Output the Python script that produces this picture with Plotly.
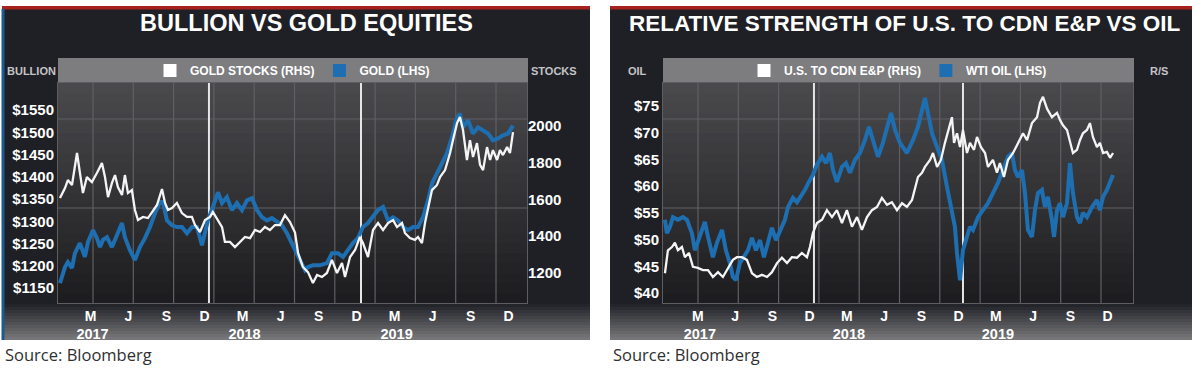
import plotly.graph_objects as go

W, H = 1200, 369

# ---------------- DATA ----------------
# Left chart: gold bullion (LHS, US$/oz) vs gold equities (RHS); time in decimal years
gold_t = [2017.020, 2017.053, 2017.072, 2017.099, 2017.118, 2017.151, 2017.184, 2017.204, 2017.237, 2017.263,
          2017.283, 2017.303, 2017.329, 2017.362, 2017.395, 2017.428, 2017.447, 2017.480, 2017.513, 2017.546,
          2017.579, 2017.612, 2017.645, 2017.678, 2017.697, 2017.724, 2017.757, 2017.789, 2017.822, 2017.855,
          2017.888, 2017.921, 2017.954, 2017.974, 2017.993, 2018.026, 2018.059, 2018.086, 2018.118, 2018.151,
          2018.184, 2018.217, 2018.250, 2018.283, 2018.316, 2018.349, 2018.382, 2018.414, 2018.447, 2018.480,
          2018.513, 2018.546, 2018.579, 2018.599, 2018.632, 2018.651, 2018.684, 2018.730, 2018.776, 2018.809,
          2018.849, 2018.882, 2018.914, 2018.947, 2018.980, 2019.013, 2019.046, 2019.079, 2019.112, 2019.145,
          2019.178, 2019.211, 2019.243, 2019.276, 2019.309, 2019.342, 2019.375, 2019.408, 2019.441, 2019.467,
          2019.500, 2019.533, 2019.566, 2019.599, 2019.632, 2019.651, 2019.671, 2019.704, 2019.737, 2019.770,
          2019.803, 2019.836, 2019.868, 2019.901, 2019.934, 2019.967, 2020.000]
gold_usd = [1161, 1197, 1208, 1195, 1228, 1251, 1220, 1253, 1280, 1262,
            1242, 1258, 1264, 1242, 1269, 1296, 1264, 1235, 1213, 1242,
            1262, 1287, 1318, 1343, 1343, 1302, 1291, 1287, 1287, 1273,
            1287, 1287, 1246, 1280, 1302, 1332, 1365, 1341, 1354, 1325,
            1341, 1325, 1347, 1352, 1325, 1309, 1302, 1307, 1298, 1291,
            1273, 1251, 1228, 1213, 1190, 1197, 1201, 1201, 1206, 1228,
            1228, 1220, 1235, 1251, 1262, 1287, 1296, 1309, 1325, 1332,
            1302, 1309, 1302, 1287, 1280, 1287, 1287, 1309, 1347, 1385,
            1408, 1430, 1453, 1489, 1533, 1542, 1511, 1527, 1497, 1511,
            1504, 1497, 1482, 1486, 1493, 1497, 1515]

stocks_t = [2017.020, 2017.053, 2017.072, 2017.099, 2017.132, 2017.151, 2017.171, 2017.197, 2017.230, 2017.263,
            2017.296, 2017.316, 2017.336, 2017.362, 2017.382, 2017.401, 2017.428, 2017.447, 2017.467, 2017.493,
            2017.513, 2017.533, 2017.566, 2017.599, 2017.632, 2017.658, 2017.691, 2017.711, 2017.730, 2017.757,
            2017.789, 2017.822, 2017.855, 2017.888, 2017.908, 2017.941, 2017.974, 2018.007, 2018.026, 2018.059,
            2018.086, 2018.105, 2018.138, 2018.171, 2018.204, 2018.237, 2018.270, 2018.303, 2018.336, 2018.368,
            2018.401, 2018.434, 2018.467, 2018.500, 2018.533, 2018.566, 2018.586, 2018.618, 2018.651, 2018.684,
            2018.711, 2018.743, 2018.776, 2018.809, 2018.842, 2018.875, 2018.895, 2018.928, 2018.961, 2018.993,
            2019.013, 2019.046, 2019.079, 2019.112, 2019.145, 2019.178, 2019.211, 2019.237, 2019.270, 2019.289,
            2019.322, 2019.355, 2019.375, 2019.401, 2019.421, 2019.441, 2019.467, 2019.500, 2019.520, 2019.553,
            2019.586, 2019.605, 2019.632, 2019.651, 2019.671, 2019.697, 2019.717, 2019.737, 2019.763, 2019.783,
            2019.803, 2019.829, 2019.849, 2019.868, 2019.895, 2019.914, 2019.934, 2019.961, 2019.980, 2020.000]
stocks_idx = [1608, 1662, 1706, 1679, 1853, 1744, 1635, 1722, 1695, 1744,
              1798, 1722, 1613, 1690, 1733, 1668, 1624, 1733, 1635, 1651,
              1543, 1488, 1505, 1499, 1543, 1570, 1657, 1581, 1543, 1554,
              1581, 1526, 1505, 1505, 1461, 1423, 1488, 1505, 1532, 1488,
              1450, 1369, 1369, 1341, 1369, 1396, 1390, 1434, 1423, 1450,
              1434, 1461, 1461, 1515, 1477, 1420, 1309, 1233, 1205, 1146,
              1189, 1178, 1200, 1271, 1200, 1254, 1178, 1287, 1325, 1396,
              1363, 1287, 1434, 1472, 1434, 1472, 1488, 1450, 1472, 1418,
              1390, 1380, 1396, 1363, 1472, 1543, 1651, 1679, 1722, 1760,
              1853, 1923, 2016, 2049, 1978, 1815, 1923, 1831, 1907, 1788,
              1760, 1885, 1815, 1869, 1815, 1869, 1842, 1885, 1853, 1967]

# Right chart: WTI oil (LHS, US$/bbl) vs U.S. to CDN E&P relative strength (RHS, unlabelled scale)
wti_t = [2017.000, 2017.013, 2017.034, 2017.054, 2017.087, 2017.121, 2017.148, 2017.181, 2017.201, 2017.235,
         2017.268, 2017.289, 2017.322, 2017.349, 2017.383, 2017.409, 2017.436, 2017.456, 2017.477, 2017.503,
         2017.530, 2017.557, 2017.584, 2017.611, 2017.638, 2017.664, 2017.691, 2017.718, 2017.745, 2017.772,
         2017.805, 2017.826, 2017.859, 2017.886, 2017.913, 2017.940, 2017.966, 2017.993, 2018.020, 2018.054,
         2018.081, 2018.107, 2018.128, 2018.154, 2018.188, 2018.215, 2018.242, 2018.275, 2018.309, 2018.342,
         2018.369, 2018.396, 2018.430, 2018.463, 2018.490, 2018.517, 2018.544, 2018.577, 2018.624, 2018.664,
         2018.698, 2018.725, 2018.745, 2018.765, 2018.792, 2018.826, 2018.859, 2018.893, 2018.926, 2018.946,
         2018.960, 2018.980, 2019.000, 2019.027, 2019.047, 2019.067, 2019.101, 2019.134, 2019.168, 2019.201,
         2019.235, 2019.268, 2019.302, 2019.329, 2019.349, 2019.369, 2019.396, 2019.416, 2019.436, 2019.463,
         2019.483, 2019.503, 2019.530, 2019.550, 2019.570, 2019.597, 2019.611, 2019.631, 2019.651, 2019.671,
         2019.698, 2019.718, 2019.738, 2019.765, 2019.785, 2019.805, 2019.832, 2019.866, 2019.899, 2019.919,
         2019.940, 2019.966, 2019.987, 2020.007]
wti_usd = [53.7, 51.2, 52.4, 54.2, 53.7, 54.2, 53.7, 51.2, 48.0, 50.5,
           53.3, 50.5, 46.7, 49.4, 51.8, 48.0, 45.6, 43.0, 42.4, 45.6,
           46.7, 48.0, 50.3, 48.0, 49.9, 46.7, 49.4, 52.2, 49.9, 51.8,
           53.7, 56.1, 57.8, 57.0, 58.0, 59.3, 60.8, 62.1, 64.0, 65.5,
           64.3, 66.2, 63.0, 60.8, 63.6, 64.3, 62.5, 64.9, 66.2, 68.6,
           71.1, 68.6, 65.5, 68.1, 71.1, 73.7, 70.5, 68.1, 66.2, 68.6,
           71.1, 74.3, 76.5, 73.7, 69.9, 67.3, 64.9, 59.8, 55.0, 52.4,
           47.5, 42.4, 48.0, 50.5, 52.4, 51.8, 54.2, 55.5, 56.8, 58.7,
           60.6, 63.0, 65.5, 66.2, 63.0, 61.7, 63.0, 58.7, 51.8, 50.5,
           55.5, 58.7, 59.3, 56.1, 58.0, 53.7, 50.5, 55.5, 56.8, 54.2,
           56.8, 64.3, 58.7, 54.2, 53.1, 55.0, 54.2, 56.1, 57.4, 55.5,
           58.0, 59.3, 60.6, 62.1]

rs_t = [2017.000, 2017.020, 2017.047, 2017.067, 2017.087, 2017.114, 2017.134, 2017.161, 2017.188, 2017.221,
        2017.255, 2017.289, 2017.322, 2017.356, 2017.389, 2017.423, 2017.456, 2017.483, 2017.517, 2017.550,
        2017.584, 2017.617, 2017.651, 2017.685, 2017.718, 2017.752, 2017.785, 2017.819, 2017.852, 2017.886,
        2017.919, 2017.953, 2017.973, 2017.993, 2018.020, 2018.054, 2018.087, 2018.121, 2018.154, 2018.188,
        2018.221, 2018.255, 2018.289, 2018.322, 2018.356, 2018.389, 2018.423, 2018.456, 2018.490, 2018.523,
        2018.557, 2018.591, 2018.624, 2018.658, 2018.678, 2018.698, 2018.725, 2018.745, 2018.779, 2018.799,
        2018.826, 2018.852, 2018.879, 2018.906, 2018.926, 2018.940, 2018.960, 2018.980, 2019.000, 2019.027,
        2019.047, 2019.074, 2019.094, 2019.121, 2019.148, 2019.168, 2019.201, 2019.228, 2019.248, 2019.275,
        2019.302, 2019.336, 2019.369, 2019.403, 2019.430, 2019.463, 2019.497, 2019.517, 2019.537, 2019.564,
        2019.597, 2019.631, 2019.651, 2019.671, 2019.698, 2019.718, 2019.738, 2019.765, 2019.785, 2019.805,
        2019.832, 2019.852, 2019.872, 2019.899, 2019.919, 2019.940, 2019.966, 2019.987, 2020.007]
rs_val = [43.7, 48.0, 48.6, 49.4, 48.0, 48.6, 46.7, 47.5, 44.9, 44.7,
          44.3, 44.3, 43.0, 43.9, 43.0, 44.7, 46.2, 46.7, 46.7, 46.2,
          43.7, 43.0, 43.4, 43.0, 43.9, 45.6, 46.6, 45.6, 46.7, 46.6,
          47.5, 46.7, 48.6, 51.2, 53.1, 53.7, 55.5, 54.2, 55.5, 53.1,
          55.5, 52.4, 54.2, 51.8, 54.2, 55.5, 56.1, 57.8, 56.5, 57.0,
          55.5, 56.8, 56.1, 57.4, 59.3, 61.7, 62.5, 63.6, 64.9, 66.2,
          63.6, 64.9, 68.1, 71.1, 72.9, 68.1, 69.9, 67.3, 70.5, 66.2,
          68.1, 66.8, 69.2, 67.3, 66.2, 63.6, 64.9, 62.5, 64.3, 61.7,
          64.9, 66.2, 68.1, 69.9, 68.6, 71.8, 72.9, 75.6, 76.7, 74.5,
          72.9, 73.7, 72.4, 71.4, 70.5, 68.1, 66.2, 66.8, 68.6, 69.9,
          70.5, 71.8, 69.2, 67.3, 68.1, 66.2, 66.4, 65.3, 66.2]

years = [2017, 2018, 2019]
month_nums = [3, 6, 9, 12]
month_letters = ["M", "J", "S", "D"]
gold_ticks = [1150, 1200, 1250, 1300, 1350, 1400, 1450, 1500, 1550]
stock_ticks = [1200, 1400, 1600, 1800, 2000]
oil_ticks = [40, 45, 50, 55, 60, 65, 70, 75]

# ---------------- STYLE / LAYOUT ----------------
BLUE = "#1e6fb2"
WHITE = "#f4f4f4"
PANEL = "#1f2026"
FONT = "Liberation Sans"

def fx(px):
    return px / W

def fy(py):
    return 1 - py / H

def mix(c1, c2, t):
    a = [int(c1[i:i + 2], 16) for i in (1, 3, 5)]
    b = [int(c2[i:i + 2], 16) for i in (1, 3, 5)]
    return "rgb(%d,%d,%d)" % tuple(round(a[k] + (b[k] - a[k]) * t) for k in range(3))

tickvals, ticktext = [], []
for yr in years:
    for m, lt in zip(month_nums, month_letters):
        tickvals.append(yr + (m - 0.35) / 12)
        ticktext.append(lt + ("<br><span style='font-size:14.5px'>&nbsp;" + str(yr) + "</span>" if m == 3 else ""))

fig = go.Figure()

# lines
fig.add_trace(go.Scatter(x=gold_t, y=gold_usd, mode="lines", line=dict(color=BLUE, width=4),
                         xaxis="x", yaxis="y", showlegend=False, hoverinfo="skip"))
fig.add_trace(go.Scatter(x=stocks_t, y=stocks_idx, mode="lines", line=dict(color=WHITE, width=2.3),
                         xaxis="x", yaxis="y2", showlegend=False, hoverinfo="skip"))
fig.add_trace(go.Scatter(x=wti_t, y=wti_usd, mode="lines", line=dict(color=BLUE, width=4),
                         xaxis="x2", yaxis="y3", showlegend=False, hoverinfo="skip"))
fig.add_trace(go.Scatter(x=rs_t, y=rs_val, mode="lines", line=dict(color=WHITE, width=2.3),
                         xaxis="x2", yaxis="y4", showlegend=False, hoverinfo="skip"))

# legend entries (square swatches)
for name, col, lg, xa, ya in [("GOLD STOCKS (RHS)", "white", "legend", "x", "y"),
                               ("GOLD (LHS)", BLUE, "legend", "x", "y"),
                               ("U.S. TO CDN E&P (RHS)", "white", "legend2", "x2", "y3"),
                               ("WTI OIL (LHS)", BLUE, "legend2", "x2", "y3")]:
    fig.add_trace(go.Scatter(x=[None], y=[None], mode="markers", name=name,
                             marker=dict(symbol="square", size=13, color=col),
                             legend=lg, xaxis=xa, yaxis=ya))

shapes = []
# panels
for x0, x1 in [(2, 590), (610, 1192)]:
    shapes.append(dict(type="rect", xref="paper", yref="paper", x0=fx(x0), x1=fx(x1), y0=fy(340), y1=fy(8),
                       fillcolor=PANEL, line=dict(width=0), layer="below"))
    nb = 12
    for i in range(nb):
        ya, yb = 304 + i * 36 / nb, 304 + (i + 1) * 36 / nb
        shapes.append(dict(type="rect", xref="paper", yref="paper", x0=fx(x0), x1=fx(x1), y0=fy(yb), y1=fy(ya),
                           fillcolor=mix("#202127", "#7a7a7c", (i + 0.5) / nb), line=dict(width=0), layer="below"))
    shapes.append(dict(type="rect", xref="paper", yref="paper", x0=fx(x0), x1=fx(x1), y0=fy(9.5), y1=fy(6),
                       fillcolor="#a8221d", line=dict(width=0), layer="below"))
shapes.append(dict(type="rect", xref="paper", yref="paper", x0=fx(1.5), x1=fx(4.5), y0=fy(340), y1=fy(9),
                   fillcolor="#1d5a92", line=dict(width=0), layer="below"))

plots = [(58, 527), (663, 1133)]
for px0, px1 in plots:
    # legend bar
    shapes.append(dict(type="rect", xref="paper", yref="paper", x0=fx(px0), x1=fx(px1 + 1), y0=fy(83), y1=fy(58),
                       fillcolor="#7d7d80", line=dict(width=0), layer="below"))
    # plot-area gradient
    nb = 22
    for i in range(nb):
        ya, yb = 83 + i * 220 / nb, 83 + (i + 1) * 220 / nb
        shapes.append(dict(type="rect", xref="paper", yref="paper", x0=fx(px0), x1=fx(px1), y0=fy(yb), y1=fy(ya),
                           fillcolor=mix("#4a4a4d", "#1c1c1f", (i + 0.5) / nb), line=dict(width=0), layer="below"))
    # light grid
    for k in range(11):
        xg = px0 + 35 + k * 40.3
        shapes.append(dict(type="line", xref="paper", yref="paper", x0=fx(xg), x1=fx(xg), y0=fy(303), y1=fy(83),
                           line=dict(color="#606064", width=1.2), layer="below"))
    for yg in (119, 208):
        shapes.append(dict(type="line", xref="paper", yref="paper", x0=fx(px0), x1=fx(px1), y0=fy(yg), y1=fy(yg),
                           line=dict(color="#606064", width=1.2), layer="below"))

# year-boundary lines
for xr, yr_ in [("x", "y domain"), ("x2", "y3 domain")]:
    for yb in (2018, 2019):
        shapes.append(dict(type="line", xref=xr, yref=yr_, x0=yb, x1=yb, y0=0, y1=1,
                           line=dict(color="#e6e6e6", width=2), layer="below"))

annotations = []
annotations.append(dict(text="BULLION VS GOLD EQUITIES", x=fx(306), y=fy(23.5), xref="paper", yref="paper",
                        showarrow=False, xanchor="center", yanchor="middle",
                        font=dict(family=FONT, size=23.5, color="white", weight="bold")))
annotations.append(dict(text="RELATIVE STRENGTH OF U.S. TO CDN E&P VS OIL", x=fx(905), y=fy(23.5), xref="paper",
                        yref="paper", showarrow=False, xanchor="center", yanchor="middle",
                        font=dict(family=FONT, size=22.5, color="white", weight="bold")))
for txt, xc in [("BULLION", 31), ("STOCKS", 554), ("OIL", 637), ("R/S", 1159)]:
    annotations.append(dict(text=txt, x=fx(xc), y=fy(70.5), xref="paper", yref="paper", showarrow=False,
                            xanchor="center", yanchor="middle",
                            font=dict(family=FONT, size=11, color="#c4c4c6", weight="bold")))
for xs in (3, 611):
    annotations.append(dict(text="Source: Bloomberg", x=fx(xs), y=fy(354), xref="paper", yref="paper",
                            showarrow=False, xanchor="left", yanchor="middle",
                            font=dict(family="Open Sans", size=16.5, color="#303030")))

tick_font = dict(family=FONT, size=15, color="white", weight="bold")
x_font = dict(family=FONT, size=14, color="white", weight="bold")
ydom = [fy(303), fy(83)]
common_x = dict(tickmode="array", tickvals=tickvals, ticktext=ticktext, showgrid=False, zeroline=False,
                tickfont=x_font, showline=True, linecolor="#5e5e62", linewidth=1, mirror=True, ticks="")

fig.update_layout(
    width=W, height=H, autosize=False,
    margin=dict(l=0, r=0, t=0, b=0),
    paper_bgcolor="white", plot_bgcolor="rgba(0,0,0,0)",
    xaxis=dict(domain=[fx(58), fx(527)], range=[2017.007, 2020.092], anchor="y", **common_x),
    yaxis=dict(domain=ydom, range=[1116.3, 1610.7], tickmode="array", tickvals=gold_ticks,
               ticktext=["$%d" % v for v in gold_ticks], showgrid=False, zeroline=False, tickfont=tick_font,
               showline=True, linecolor="#5e5e62", linewidth=1, mirror=True, ticks="", anchor="x"),
    yaxis2=dict(overlaying="y", side="right", anchor="x", range=[1036.7, 2234], tickmode="array",
                tickvals=stock_ticks, ticktext=[str(v) for v in stock_ticks], showgrid=False, zeroline=False,
                tickfont=tick_font, ticks=""),
    xaxis2=dict(domain=[fx(663), fx(1133)], range=[2016.987, 2020.141], anchor="y3", **common_x),
    yaxis3=dict(domain=ydom, range=[38.13, 79.3], tickmode="array", tickvals=oil_ticks,
                ticktext=["$%d" % v for v in oil_ticks], showgrid=False, zeroline=False, tickfont=tick_font,
                showline=True, linecolor="#5e5e62", linewidth=1, mirror=True, ticks="", anchor="x2"),
    yaxis4=dict(overlaying="y3", side="right", anchor="x2", range=[38.13, 79.3], showticklabels=False,
                showgrid=False, zeroline=False, ticks=""),
    legend=dict(orientation="h", x=fx(292.5), xanchor="center", y=fy(70.5), yanchor="middle",
                bgcolor="rgba(0,0,0,0)", itemwidth=30, traceorder="normal",
                font=dict(family=FONT, size=12, color="white", weight="bold")),
    legend2=dict(orientation="h", x=fx(898), xanchor="center", y=fy(70.5), yanchor="middle",
                 bgcolor="rgba(0,0,0,0)", itemwidth=30, traceorder="normal",
                 font=dict(family=FONT, size=12, color="white", weight="bold")),
    shapes=shapes, annotations=annotations,
)

fig.write_html("out.html", config={"displayModeBar": False},
               post_script="document.body.style.margin='0';")
